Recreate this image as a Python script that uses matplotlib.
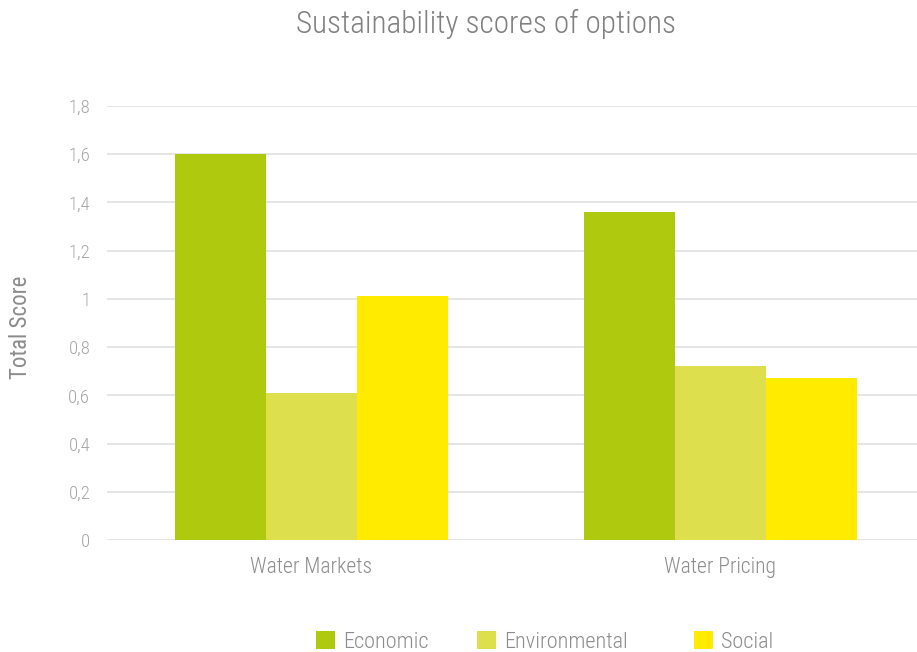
import matplotlib
matplotlib.use("Agg")
import matplotlib.pyplot as plt
import numpy as np
from matplotlib.ticker import FuncFormatter

categories = ["Water Markets", "Water Pricing"]
series_names = ["Economic", "Environmental", "Social"]
economic = [1.60, 1.36]
environmental = [0.61, 0.72]
social = [1.01, 0.67]
colors = ["#AEC90E", "#DDE04C", "#FFEB00"]
y_ticks = [0, 0.2, 0.4, 0.6, 0.8, 1.0, 1.2, 1.4, 1.6, 1.8]

plt.rcParams['font.family'] = ['Roboto Condensed', 'DejaVu Sans']
plt.rcParams['font.weight'] = 300

W, H = 917, 652
fig = plt.figure(figsize=(W / 100, H / 100), dpi=100)
left_px, right_px, bottom_px, top_px = 107, 917, 540, 106
ax = fig.add_axes([left_px / W, (H - bottom_px) / H, (right_px - left_px) / W, (bottom_px - top_px) / H])

x = np.arange(len(categories))
bw = 1 / 4.5
vals = [economic, environmental, social]
handles = []
for i, (name, v, c) in enumerate(zip(series_names, vals, colors)):
    h = ax.bar(x + (i - 1) * bw, v, width=bw, color=c, label=name, zorder=3)
    handles.append(h)

ax.set_ylim(0, 1.8)
ax.set_xlim(-0.5, -0.5 + (right_px - left_px) / 409)
ax.set_yticks(y_ticks)
ax.yaxis.set_major_formatter(FuncFormatter(lambda v, p: ("%g" % round(v, 1)).replace(".", ",")))
ax.set_xticks(x)
ax.set_xticklabels(categories)
ax.grid(axis='y', color='#e0e0e0', linewidth=1.2, zorder=0)
ax.set_axisbelow(True)
for s in ax.spines.values():
    s.set_visible(False)
ax.tick_params(axis='y', length=0, pad=12, labelsize=13.5, labelcolor='#a6a6a6')
ax.tick_params(axis='x', length=0, pad=12.5, labelsize=15.5, labelcolor='#8c8c8c')
ax.set_ylabel("Total Score", fontsize=16.5, color='#8c8c8c')
ax.yaxis.set_label_coords(-(107 - 32) / (right_px - left_px), 0.49)

fig.text(486 / W, 1 - 24 / H, "Sustainability scores of options", ha='center', va='center',
         fontsize=22.5, color='#808080')

legend_x = [316, 477, 694]
for h, name, lx in zip(handles, series_names, legend_x):
    leg = fig.legend(handles=[h], labels=[name], loc='center left',
                     bbox_to_anchor=(lx / W, 1 - 642 / H), frameon=False, fontsize=16,
                     borderpad=0, borderaxespad=0,
                     handlelength=0.86, handleheight=0.86, handletextpad=0.36)
    for t in leg.get_texts():
        t.set_color('#8c8c8c')

fig.savefig("out.png", dpi=100)
